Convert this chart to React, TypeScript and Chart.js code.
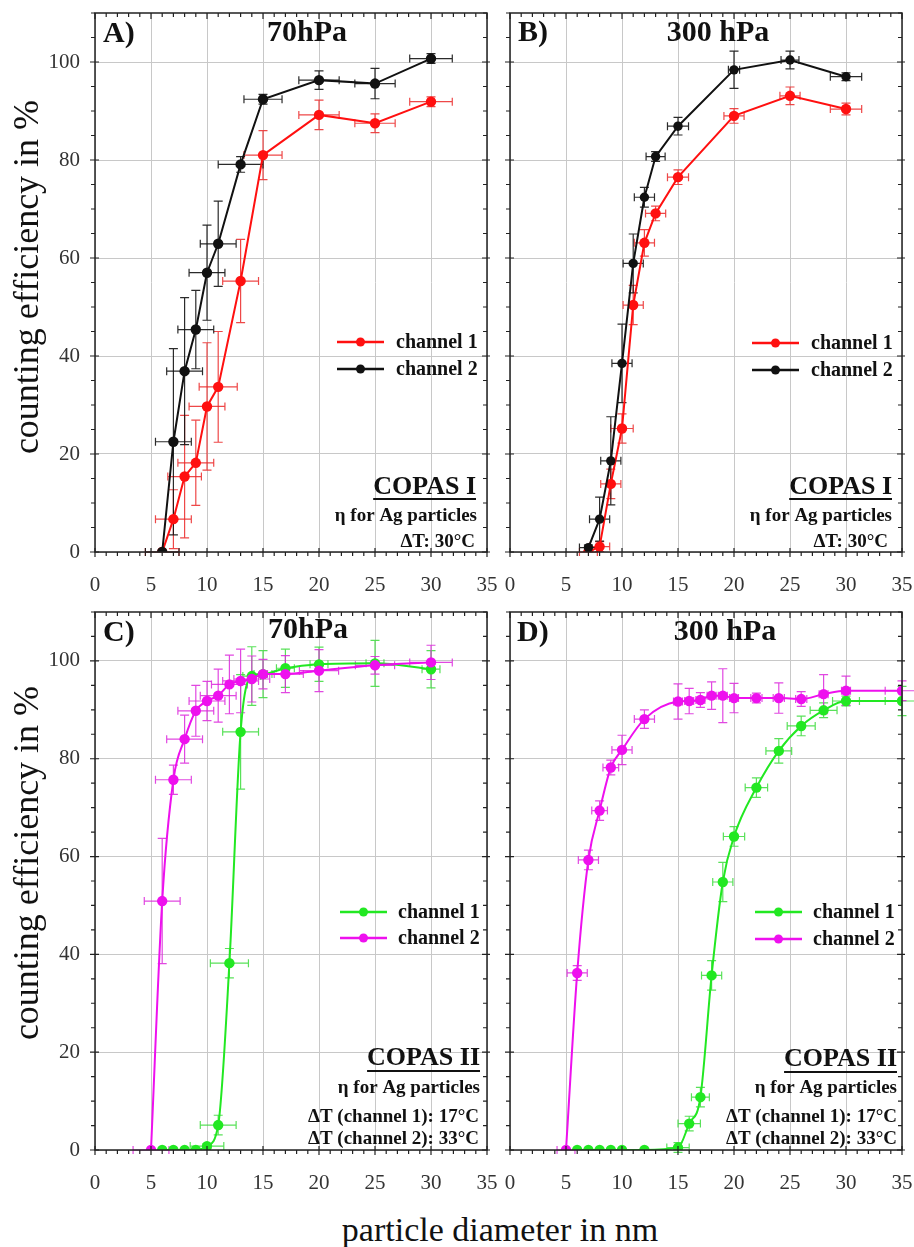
import React, { useEffect, useRef } from 'react';
import { Chart, registerables } from 'chart.js';

Chart.register(...registerables);

const FONT = '"Liberation Serif", "Times New Roman", Times, serif';

// ---------- Panel A (COPAS I, 70 hPa) ----------
const aCh1X = [6, 7, 8, 9, 10, 11, 13, 15, 20, 25, 30];
const aCh1Y = [0, 6.7, 15.4, 18.2, 29.7, 33.7, 55.3, 81.0, 89.2, 87.5, 91.9];
const aCh1XErr = [1.5, 1.6, 1.5, 1.6, 1.6, 1.7, 1.6, 1.7, 1.8, 1.8, 1.9];
const aCh1YErr = [0, 6, 12.5, 8.7, 13, 11.3, 8.5, 5, 3, 1.9, 1];
const aCh2X = [6, 7, 8, 9, 10, 11, 13, 15, 20, 25, 30];
const aCh2Y = [0, 22.5, 36.9, 45.4, 57.0, 62.9, 79.1, 92.4, 96.3, 95.6, 100.7];
const aCh2XErr = [1.5, 1.6, 1.6, 1.6, 1.6, 1.6, 2.0, 1.7, 1.8, 1.8, 1.9];
const aCh2YErr = [0, 19, 15, 8, 9.7, 8.7, 1.6, 1, 1.9, 3.1, 1];

// ---------- Panel B (COPAS I, 300 hPa) ----------
const bCh1X = [7, 8, 9, 10, 11, 12, 13, 15, 20, 25, 30];
const bCh1Y = [0, 1.1, 13.9, 25.2, 50.4, 63.1, 69.1, 76.5, 89.0, 93.1, 90.4];
const bCh1XErr = [0.8, 0.9, 0.9, 1.0, 0.9, 0.9, 0.9, 0.94, 0.9, 0.9, 1.4];
const bCh1YErr = [0, 1, 3, 3, 4, 2.7, 1.5, 1.5, 1.5, 1.8, 1.2];
const bCh2X = [7, 8, 9, 10, 11, 12, 13, 15, 20, 25, 30];
const bCh2Y = [0.9, 6.7, 18.6, 38.5, 58.9, 72.4, 80.7, 86.9, 98.4, 100.4, 97.0];
const bCh2XErr = [0.8, 0.9, 0.9, 0.9, 0.9, 0.9, 0.85, 0.94, 0.5, 0.8, 1.4];
const bCh2YErr = [0.5, 4.5, 9, 8, 6, 2, 1, 1.8, 3.8, 1.8, 0.8];

// ---------- Panel C (COPAS II, 70 hPa) ----------
const cCh1X = [6, 7, 8, 9, 10, 11, 12, 13, 14, 15, 17, 20, 25, 30];
const cCh1Y = [0, 0, 0, 0, 0.8, 5.1, 38.2, 85.5, 96.9, 97.3, 98.5, 99.3, 99.5, 98.3];
const cCh1XErr = [0, 0, 0, 0, 1.5, 1.6, 1.7, 1.6, 0.8, 0.8, 0.8, 0.8, 0.8, 0.8];
const cCh1YErr = [0, 0, 0, 0, 0.5, 2, 3, 11.7, 6, 4.8, 3.9, 3.5, 4.7, 3.8];
const cCh2X = [5, 6, 7, 8, 9, 10, 11, 12, 13, 14, 15, 17, 20, 25, 30];
const cCh2Y = [0, 50.9, 75.7, 84.0, 89.8, 91.8, 92.9, 95.2, 95.9, 96.3, 97.3, 97.3, 98.0, 99.1, 99.7];
const cCh2XErr = [1.6, 1.6, 1.6, 1.6, 1.6, 1.6, 1.6, 1.6, 1.6, 1.6, 1.0, 1.6, 1.75, 1.75, 1.9];
const cCh2YErr = [0, 12.8, 3, 4.9, 5.2, 4, 5.4, 6, 6.5, 4.7, 3, 3.8, 4.3, 1.8, 3.5];

// ---------- Panel D (COPAS II, 300 hPa) ----------
const dCh1X = [6, 7, 8, 9, 10, 12, 15, 16, 17, 18, 19, 20, 22, 24, 26, 28, 30, 35];
const dCh1Y = [0, 0, 0, 0, 0, 0, 0.5, 5.4, 10.8, 35.7, 54.8, 64.1, 74.1, 81.6, 86.7, 89.9, 91.8, 91.8];
const dCh1XErr = [0, 0, 0, 0, 0, 0, 1.0, 1.0, 0.8, 0.9, 0.9, 0.95, 1.0, 1.15, 1.25, 1.2, 1.2, 1.5];
const dCh1YErr = [0, 0, 0, 0, 0, 0, 1, 1.5, 2, 3, 4, 2, 2, 2.5, 2, 1.5, 1, 3];
const dCh2X = [5, 6, 7, 8, 9, 10, 12, 15, 16, 17, 18, 19, 20, 22, 24, 26, 28, 30, 35];
const dCh2Y = [0, 36.2, 59.3, 69.4, 78.2, 81.8, 88.1, 91.7, 91.8, 92.0, 92.9, 92.9, 92.4, 92.4, 92.4, 92.2, 93.2, 93.9, 93.9];
const dCh2XErr = [0.8, 0.9, 0.9, 0.7, 0.7, 0.9, 0.9, 0.4, 0.4, 0.4, 0.4, 0.4, 0.4, 0.5, 0.5, 0.5, 0.4, 0.4, 1.5];
const dCh2YErr = [0, 1.5, 2, 2, 1.5, 3, 1.9, 3.6, 2.6, 1.5, 2.8, 5.5, 3, 1, 3.1, 1.5, 4, 3, 2];

const xTickStep = 5;
const yTickStep = 20;
const xRange = [0, 35];
const yRange = [0, 110];
const legendLabels = ['channel 1', 'channel 2'];

const RED = '#ff1010';
const BLACK = '#111111';
const GREEN = '#22e822';
const MAGENTA = '#ee10ee';

type Series = {
  x: number[]; y: number[]; xe: number[]; ye: number[];
  color: string; errColor: string; radius: number;
};

type Panel = {
  id: string;
  left: number; top: number; width: number; height: number;
  area: { l: number; r: number; t: number; b: number };
  showY: boolean;
  smooth: boolean;
  series: Series[];
  letter: string; letterPos: [number, number];
  title: string; titlePos: [number, number];
  legend: { x1: number; x2: number; tx: number; y: number[] };
  box: string; boxRight: number; boxY: number; underlineY: number;
  notes: { t: string; y: number; right: number; size: number }[];
};

const mk = (x: number[], y: number[], xe: number[], ye: number[], color: string, errColor: string, radius: number): Series =>
  ({ x, y, xe, ye, color, errColor, radius });

const panels: Panel[] = [
  {
    id: 'A', left: 0, top: 0, width: 500, height: 600,
    area: { l: 95, r: 487, t: 13, b: 552 }, showY: true, smooth: false,
    series: [
      mk(aCh1X, aCh1Y, aCh1XErr, aCh1YErr, RED, 'rgba(235,40,40,0.85)', 5.2),
      mk(aCh2X, aCh2Y, aCh2XErr, aCh2YErr, BLACK, 'rgba(20,20,20,0.9)', 5.2),
    ],
    letter: 'A)', letterPos: [103, 34], title: '70hPa', titlePos: [307, 33],
    legend: { x1: 337, x2: 384, tx: 396, y: [342, 369] },
    box: 'COPAS I', boxRight: 476, boxY: 487, underlineY: 499,
    notes: [
      { t: 'η for Ag particles', y: 516, right: 477, size: 19 },
      { t: 'ΔT: 30°C', y: 542, right: 475, size: 19 },
    ],
  },
  {
    id: 'B', left: 500, top: 0, width: 414, height: 600,
    area: { l: 510, r: 902, t: 13, b: 552 }, showY: false, smooth: false,
    series: [
      mk(bCh1X, bCh1Y, bCh1XErr, bCh1YErr, RED, 'rgba(235,40,40,0.85)', 5.2),
      mk(bCh2X, bCh2Y, bCh2XErr, bCh2YErr, BLACK, 'rgba(20,20,20,0.9)', 4.7),
    ],
    letter: 'B)', letterPos: [518, 33], title: '300 hPa', titlePos: [718, 33],
    legend: { x1: 752, x2: 799, tx: 811, y: [343, 370] },
    box: 'COPAS I', boxRight: 892, boxY: 487, underlineY: 499,
    notes: [
      { t: 'η for Ag particles', y: 516, right: 892, size: 19 },
      { t: 'ΔT: 30°C', y: 542, right: 888, size: 19 },
    ],
  },
  {
    id: 'C', left: 0, top: 600, width: 500, height: 610,
    area: { l: 95, r: 487, t: 612, b: 1150 }, showY: true, smooth: true,
    series: [
      mk(cCh1X, cCh1Y, cCh1XErr, cCh1YErr, GREEN, 'rgba(60,220,60,0.85)', 5.2),
      mk(cCh2X, cCh2Y, cCh2XErr, cCh2YErr, MAGENTA, 'rgba(220,40,220,0.85)', 5.2),
    ],
    letter: 'C)', letterPos: [103, 633], title: '70hPa', titlePos: [308, 630],
    legend: { x1: 340, x2: 387, tx: 398, y: [912, 938] },
    box: 'COPAS II', boxRight: 480, boxY: 1058, underlineY: 1071,
    notes: [
      { t: 'η for Ag particles', y: 1088, right: 480, size: 19 },
      { t: 'ΔT (channel 1): 17°C', y: 1117, right: 479, size: 19 },
      { t: 'ΔT (channel 2): 33°C', y: 1139, right: 479, size: 19 },
    ],
  },
  {
    id: 'D', left: 500, top: 600, width: 414, height: 610,
    area: { l: 510, r: 902, t: 612, b: 1150 }, showY: false, smooth: true,
    series: [
      mk(dCh1X, dCh1Y, dCh1XErr, dCh1YErr, GREEN, 'rgba(60,220,60,0.85)', 5.2),
      mk(dCh2X, dCh2Y, dCh2XErr, dCh2YErr, MAGENTA, 'rgba(220,40,220,0.85)', 5.2),
    ],
    letter: 'D)', letterPos: [517, 633], title: '300 hPa', titlePos: [725, 632],
    legend: { x1: 755, x2: 802, tx: 813, y: [912, 939] },
    box: 'COPAS II', boxRight: 897, boxY: 1059, underlineY: 1072,
    notes: [
      { t: 'η for Ag particles', y: 1088, right: 897, size: 19 },
      { t: 'ΔT (channel 1): 17°C', y: 1117, right: 897, size: 19 },
      { t: 'ΔT (channel 2): 33°C', y: 1139, right: 897, size: 19 },
    ],
  },
];

function makePlugin(p: Panel) {
  const ox = p.left, oy = p.top;
  return {
    id: 'deco' + p.id,
    beforeDatasetsDraw(chart: any) {
      const ctx = chart.ctx;
      const xs = chart.scales.x, ys = chart.scales.y;
      ctx.save();
      p.series.forEach((s) => {
        ctx.strokeStyle = s.errColor;
        ctx.lineWidth = 1.2;
        s.x.forEach((xv, i) => {
          const px = xs.getPixelForValue(xv);
          const py = ys.getPixelForValue(s.y[i]);
          const xe = s.xe[i], ye = s.ye[i];
          ctx.beginPath();
          if (xe > 0) {
            const x1 = xs.getPixelForValue(xv - xe), x2 = xs.getPixelForValue(xv + xe);
            ctx.moveTo(x1, py); ctx.lineTo(x2, py);
            ctx.moveTo(x1, py - 4); ctx.lineTo(x1, py + 4);
            ctx.moveTo(x2, py - 4); ctx.lineTo(x2, py + 4);
          }
          if (ye > 0) {
            const y1 = ys.getPixelForValue(s.y[i] - ye), y2 = ys.getPixelForValue(s.y[i] + ye);
            ctx.moveTo(px, y1); ctx.lineTo(px, y2);
            ctx.moveTo(px - 4.5, y1); ctx.lineTo(px + 4.5, y1);
            ctx.moveTo(px - 4.5, y2); ctx.lineTo(px + 4.5, y2);
          }
          ctx.stroke();
        });
      });
      ctx.restore();
    },
    afterDraw(chart: any) {
      const ctx = chart.ctx;
      const a = chart.chartArea;
      const xs = chart.scales.x, ys = chart.scales.y;
      ctx.save();
      // frame
      ctx.strokeStyle = '#222';
      ctx.lineWidth = 1.5;
      ctx.strokeRect(a.left, a.top, a.right - a.left, a.bottom - a.top);
      // ticks
      ctx.lineWidth = 1.2;
      ctx.beginPath();
      for (let v = xRange[0]; v <= xRange[1]; v += 1) {
        const px = xs.getPixelForValue(v);
        const major = v % xTickStep === 0;
        if (major) {
          ctx.moveTo(px, a.bottom - 4); ctx.lineTo(px, a.bottom + 5);
          ctx.moveTo(px, a.top); ctx.lineTo(px, a.top + 6);
        } else {
          ctx.moveTo(px, a.bottom); ctx.lineTo(px, a.bottom + 4);
          ctx.moveTo(px, a.top); ctx.lineTo(px, a.top + 4);
        }
      }
      for (let v = yRange[0]; v <= yRange[1]; v += 5) {
        const py = ys.getPixelForValue(v);
        const major = v % yTickStep === 0;
        if (major) {
          ctx.moveTo(a.left - 5, py); ctx.lineTo(a.left + 4, py);
          ctx.moveTo(a.right - 5, py); ctx.lineTo(a.right + 3, py);
        } else {
          ctx.moveTo(a.left - 4, py); ctx.lineTo(a.left, py);
          ctx.moveTo(a.right - 4, py); ctx.lineTo(a.right, py);
        }
      }
      ctx.stroke();

      // letter and title
      ctx.fillStyle = '#111';
      ctx.textBaseline = 'middle';
      ctx.font = `bold 30px ${FONT}`;
      ctx.textAlign = 'left';
      ctx.fillText(p.letter, p.letterPos[0] - ox, p.letterPos[1] - oy);
      ctx.textAlign = 'center';
      ctx.fillText(p.title, p.titlePos[0] - ox, p.titlePos[1] - oy);

      // legend
      p.series.forEach((s, i) => {
        const y = p.legend.y[i] - oy;
        ctx.strokeStyle = s.color;
        ctx.lineWidth = 2.5;
        ctx.beginPath();
        ctx.moveTo(p.legend.x1 - ox, y); ctx.lineTo(p.legend.x2 - ox, y);
        ctx.stroke();
        ctx.fillStyle = s.color;
        ctx.beginPath();
        ctx.arc((p.legend.x1 + p.legend.x2) / 2 - ox, y, 4.5, 0, Math.PI * 2);
        ctx.fill();
        ctx.fillStyle = '#111';
        ctx.font = `bold 20px ${FONT}`;
        ctx.textAlign = 'left';
        ctx.fillText(legendLabels[i], p.legend.tx - ox, y + 1);
      });

      // annotation box
      ctx.fillStyle = '#111';
      ctx.font = `bold 26px ${FONT}`;
      ctx.textAlign = 'right';
      ctx.fillText(p.box, p.boxRight - ox, p.boxY - oy);
      const w = ctx.measureText(p.box).width;
      ctx.strokeStyle = '#111';
      ctx.lineWidth = 2;
      ctx.beginPath();
      ctx.moveTo(p.boxRight - ox - w, p.underlineY - oy);
      ctx.lineTo(p.boxRight - ox, p.underlineY - oy);
      ctx.stroke();
      p.notes.forEach((n) => {
        ctx.font = `bold ${n.size}px ${FONT}`;
        ctx.fillText(n.t, n.right - ox, n.y - oy);
      });
      ctx.restore();
    },
  };
}

function zeroPad(s: any) {
  s.paddingLeft = 0;
  s.paddingRight = 0;
  s.paddingTop = 0;
  s.paddingBottom = 0;
}

function PanelChart({ p }: { p: Panel }) {
  const ref = useRef<HTMLCanvasElement | null>(null);
  useEffect(() => {
    if (!ref.current) return;
    const datasets = p.series.map((s, i) => ({
      label: legendLabels[i],
      data: s.x.map((xv, j) => ({ x: xv, y: s.y[j] })),
      showLine: true,
      borderColor: s.color,
      backgroundColor: s.color,
      borderWidth: 2,
      pointRadius: s.radius,
      pointBorderWidth: 0,
      pointBackgroundColor: s.color,
      cubicInterpolationMode: p.smooth ? 'monotone' : 'default',
      tension: 0,
      order: i === 0 ? 1 : 0,
    }));
    const chart = new Chart(ref.current, {
      type: 'scatter',
      data: { datasets } as any,
      options: {
        responsive: false,
        animation: false,
        layout: {
          padding: {
            top: p.area.t - p.top,
            right: p.left + p.width - p.area.r,
            left: 0,
            bottom: 0,
          },
        },
        plugins: { legend: { display: false }, tooltip: { enabled: false } },
        scales: {
          x: {
            type: 'linear',
            min: xRange[0],
            max: xRange[1],
            ticks: {
              stepSize: xTickStep,
              font: { family: FONT, size: 21 },
              color: '#333',
              padding: 21,
              maxRotation: 0,
            },
            grid: { color: '#c8c8c8', lineWidth: 1, drawTicks: false },
            border: { display: false },
            afterFit: (s: any) => { s.height = p.top + p.height - p.area.b; zeroPad(s); },
          },
          y: {
            type: 'linear',
            min: yRange[0],
            max: yRange[1],
            ticks: {
              stepSize: yTickStep,
              includeBounds: false,
              display: p.showY,
              font: { family: FONT, size: 21 },
              color: '#333',
              padding: 15,
            },
            grid: { color: '#c8c8c8', lineWidth: 1, drawTicks: false },
            border: { display: false },
            afterFit: (s: any) => { s.width = p.area.l - p.left; zeroPad(s); },
          },
        },
      } as any,
      plugins: [makePlugin(p)],
    });
    return () => chart.destroy();
  }, [p]);
  return (
    <canvas
      ref={ref}
      width={p.width}
      height={p.height}
      style={{ position: 'absolute', left: p.left, top: p.top, width: p.width, height: p.height }}
    />
  );
}

export default function App() {
  const yTitleStyle: React.CSSProperties = {
    position: 'absolute',
    left: 26,
    transform: 'translate(-50%, -50%) rotate(-90deg)',
    whiteSpace: 'nowrap',
    fontFamily: FONT,
    fontSize: 36,
    color: '#111',
    lineHeight: 1,
  };
  return (
    <div style={{ position: 'absolute', left: 0, top: 0, width: 914, height: 1247, background: '#fff', overflow: 'hidden' }}>
      {panels.map((p) => <PanelChart key={p.id} p={p} />)}
      <div style={{ ...yTitleStyle, top: 277 }}>counting efficiency in %</div>
      <div style={{ ...yTitleStyle, top: 863 }}>counting efficiency in %</div>
      <div
        style={{
          position: 'absolute', left: 500, top: 1230, transform: 'translate(-50%, -50%)',
          whiteSpace: 'nowrap', fontFamily: FONT, fontSize: 34, color: '#111', lineHeight: 1,
        }}
      >
        particle diameter in nm
      </div>
    </div>
  );
}
